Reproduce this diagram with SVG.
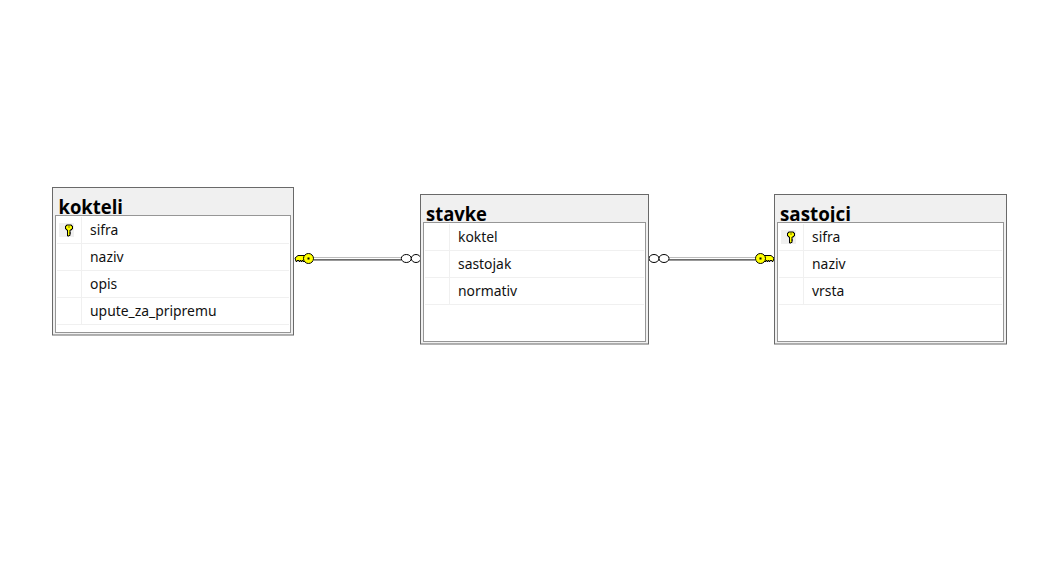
<svg xmlns="http://www.w3.org/2000/svg" width="1062" height="582" viewBox="0 0 1062 582">
<style>
.outer{fill:#f0f0f0;stroke:#696969;stroke-width:1}
.inner{fill:#fff;stroke:#969696;stroke-width:1}
.sep{stroke:#f0f0f0;stroke-width:1;fill:none}
.title{font-family:"Open Sans","Noto Sans",sans-serif;font-weight:700;font-size:20px;fill:#000}
.col{font-family:"Noto Sans","Open Sans",sans-serif;font-size:13.900px;fill:#111}
.keybg{fill:#f0f0f0}
.hi{stroke:#bdbdbd;stroke-width:1;fill:none}
.mid{stroke:#fff;stroke-width:1;fill:none}
.lo{stroke:#6e6e6e;stroke-width:1;fill:none}
.ring{fill:#fff;stroke:#000;stroke-width:1}
.yk{fill:#ffff00;stroke:#000;stroke-width:1}
</style>
<defs>
<g id="pk">
<rect x="-10" y="-6.500" width="15" height="14" class="keybg"/>
<path d="M-2.500-4.500h5v1h1v3h-1v1h-1.500v5.500h-1v.5h-1.500v-6h-1v-1h-1v-3h1z" fill="#ffff00" stroke="#000" stroke-width="1"/>
<rect x="-.5" y="-3" width="1" height="1" fill="#000"/>
<rect x=".5" y="3" width="1.500" height="1" fill="#000"/>
</g>
<g id="fk">
<path d="M-13.500 -.5l3-2.500h8v6h-3v-1h-1v1h-1v-1h-1v1h-1v-1h-2v1h-1z" class="yk"/>
<circle cx="0" cy="0" r="5" class="yk"/>
<rect x="-1" y="-1" width="2" height="2" fill="#000"/>
</g>
<clipPath id="ck"><rect x="53" y="188" width="240" height="27"/></clipPath>
<clipPath id="cs"><rect x="421" y="195" width="227" height="27"/></clipPath>
<clipPath id="cj"><rect x="775" y="195" width="231" height="27"/></clipPath>
</defs>
<g id="connectors">
<g id="rel1">
<path class="hi" d="M314 257.500H401"/><path class="mid" d="M314 258.500H401"/><path class="lo" d="M314 259.500H401"/><path class="lo" d="M314 260.500H401" opacity=".7"/>
<use href="#fk" x="308.500" y="258.500"/>
<ellipse class="ring" cx="406.300" cy="258.500" rx="5" ry="4"/>
<ellipse class="ring" cx="416" cy="258.500" rx="4.700" ry="4"/>
</g>
<g id="rel2">
<path class="hi" d="M669 257.500H755"/><path class="mid" d="M669 258.500H755"/><path class="lo" d="M669 259.500H755"/><path class="lo" d="M669 260.500H755" opacity=".7"/>
<use href="#fk" x="0" y="0" transform="translate(760.500 258.500) scale(-1 1)"/>
<ellipse class="ring" cx="654" cy="258.500" rx="5" ry="4"/>
<ellipse class="ring" cx="664" cy="258.500" rx="5" ry="4"/>
</g>
</g>
<g id="kokteli">
<rect class="outer" x="52.500" y="187.500" width="241" height="147.500"/>
<text class="title" x="58.500" y="213.500" clip-path="url(#ck)" textLength="64.500" lengthAdjust="spacingAndGlyphs">kokteli</text>
<rect class="inner" x="55.500" y="215.500" width="235" height="117"/>
<path class="sep" d="M57 243.500H289M57 270.500H289M57 297.500H289M57 324.500H289M81.500 217V324"/>
<use href="#pk" x="69" y="229.500"/>
<text class="col" x="90" y="235">sifra</text>
<text class="col" x="90" y="262">naziv</text>
<text class="col" x="90" y="289">opis</text>
<text class="col" x="90" y="316">upute_za_pripremu</text>
</g>
<g id="stavke">
<rect class="outer" x="420.500" y="194.500" width="228" height="149.500"/>
<text class="title" x="426" y="220.500" clip-path="url(#cs)" textLength="61" lengthAdjust="spacingAndGlyphs">stavke</text>
<rect class="inner" x="423.500" y="222.500" width="222" height="119"/>
<path class="sep" d="M425 250.500H644M425 277.500H644M425 304.500H644M449.500 224V304"/>
<text class="col" x="458" y="242">koktel</text>
<text class="col" x="458" y="269">sastojak</text>
<text class="col" x="458" y="296">normativ</text>
</g>
<g id="sastojci">
<rect class="outer" x="774.500" y="194.500" width="232" height="149.500"/>
<text class="title" x="780" y="220.500" clip-path="url(#cj)" textLength="71" lengthAdjust="spacingAndGlyphs">sastojci</text>
<rect class="inner" x="777.500" y="222.500" width="226" height="119"/>
<path class="sep" d="M779 250.500H1002M779 277.500H1002M779 304.500H1002M803.500 224V304"/>
<use href="#pk" x="791" y="236.500"/>
<text class="col" x="812" y="242">sifra</text>
<text class="col" x="812" y="269">naziv</text>
<text class="col" x="812" y="296">vrsta</text>
</g>
</svg>
